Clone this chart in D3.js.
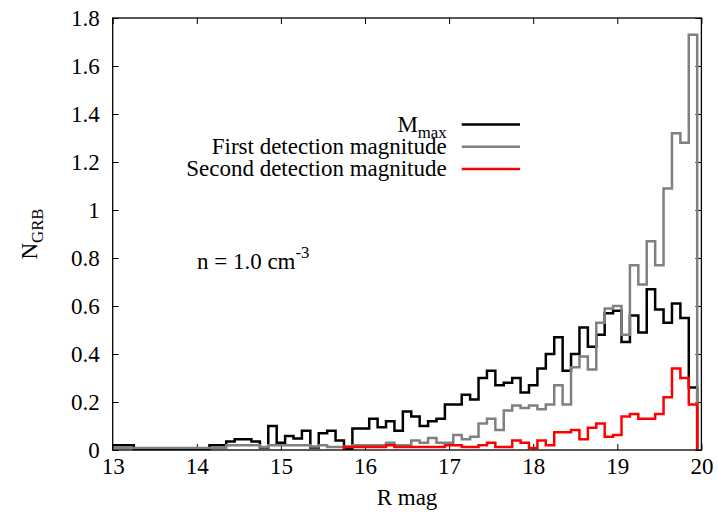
<!DOCTYPE html>
<html lang="en">
<head>
  <meta charset="utf-8">
  <title>N_GRB vs R mag</title>
  <script src="https://d3js.org/d3.v7.min.js"></script>
  <style>
    body { margin: 0; background: #fff; }
    .axis path.domain { display: none; }
    .axis line { stroke: #000; stroke-width: 1; }
  </style>
</head>
<body>
  <div id="chart"></div>

  <script>
    "use strict"

    var fonte = '"Liberation Serif", "Times New Roman", Tinos, "Noto Serif", "DejaVu Serif", serif';

    // bin centres (0.1 mag bins), 13.0 ... 19.9
    var binCenters = d3.range(70).map(i => +(13 + i * 0.1).toFixed(1));

    // M_max
    var mMax = [
      0.02, 0.02, 0.02, 0.004, 0.004, 0.004, 0.004, 0.004, 0.004, 0.004,
      0.004, 0.004, 0.02, 0.02, 0.035, 0.045, 0.045, 0.035, 0.01, 0.10,
      0.03, 0.058, 0.048, 0.08, 0.01, 0.07, 0.08, 0.04, 0.005, 0.09,
      0.09, 0.13, 0.095, 0.12, 0.08, 0.16, 0.14, 0.10, 0.12, 0.13,
      0.19, 0.19, 0.23, 0.21, 0.30, 0.33, 0.27, 0.28, 0.30, 0.24,
      0.27, 0.34, 0.40, 0.47, 0.33, 0.40, 0.51, 0.43, 0.48, 0.57,
      0.58, 0.45, 0.56, 0.49, 0.67, 0.585, 0.53, 0.61, 0.55, 0.26
    ];

    // first detection magnitude
    var firstDet = [
      0.008, 0.008, 0.008, 0.008, 0.008, 0.008, 0.008, 0.008, 0.008, 0.008,
      0.008, 0.008, 0.008, 0.008, 0.02, 0.02, 0.02, 0.02, 0.012, 0.02,
      0.02, 0.02, 0.02, 0.02, 0.015, 0.02, 0.012, 0.012, 0.015, 0.02,
      0.02, 0.02, 0.02, 0.03, 0.02, 0.02, 0.04, 0.03, 0.05, 0.03,
      0.03, 0.063, 0.045, 0.055, 0.11, 0.13, 0.083, 0.165, 0.185, 0.175,
      0.185, 0.17, 0.19, 0.27, 0.19, 0.345, 0.39, 0.335, 0.53, 0.59,
      0.60, 0.48, 0.77, 0.69, 0.87, 0.77, 1.09, 1.32, 1.28, 1.73
    ];

    // second detection magnitude (no entries below 15.8)
    var secondDet = [
      null, null, null, null, null, null, null, null, null, null,
      null, null, null, null, null, null, null, null, null, null,
      null, null, null, null, null, null, null, null, 0.012, 0.012,
      0.012, 0.012, 0.012, 0.02, 0.012, 0.012, 0.012, 0.012, 0.012, 0.012,
      0.02, 0.02, 0.012, 0.012, 0.02, 0.03, 0.012, 0.012, 0.04, 0.03,
      0.008, 0.04, 0.02, 0.074, 0.074, 0.083, 0.045, 0.093, 0.11, 0.055,
      0.063, 0.14, 0.15, 0.13, 0.13, 0.15, 0.22, 0.34, 0.30, 0.19
    ];

    var xTicks = [13, 14, 15, 16, 17, 18, 19, 20];
    var yTicks = [0, 0.2, 0.4, 0.6, 0.8, 1, 1.2, 1.4, 1.6, 1.8];

    var series = [
      { nome: "M", sub: "max", valores: mMax, cor: "#000000" },
      { nome: "First detection magnitude", sub: null, valores: firstDet, cor: "#808080" },
      { nome: "Second detection magnitude", sub: null, valores: secondDet, cor: "#ff0000" }
    ];

    var larguraSVG = 718, alturaSVG = 520;
    var margin = { top: 18, right: 16.6, bottom: 70, left: 112.7 },
        larguraVis = larguraSVG - margin.left - margin.right,
        alturaVis = alturaSVG - margin.top - margin.bottom;

    var svg = d3.select('#chart')
      .append('svg')
        .attr('width', larguraSVG)
        .attr('height', alturaSVG)
        .style('font-family', fonte);

    var grafico = svg.append('g')
        .attr('transform', 'translate(' + margin.left + ',' + margin.top + ')');

    var xScale = d3.scaleLinear().domain([13, 20]).range([0, larguraVis]);
    var yScale = d3.scaleLinear().domain([0, 1.8]).range([alturaVis, 0]);

    // eixos com ticks para dentro
    grafico.append('g')
        .attr('class', 'axis')
        .attr('transform', 'translate(0,' + alturaVis + ')')
        .call(d3.axisBottom(xScale).tickValues(xTicks).tickSize(-6).tickPadding(8).tickFormat(d3.format('d')));

    grafico.append('g')
        .attr('class', 'axis')
        .call(d3.axisTop(xScale).tickValues(xTicks).tickSize(-6).tickFormat(''));

    grafico.append('g')
        .attr('class', 'axis')
        .call(d3.axisLeft(yScale).tickValues(yTicks).tickSize(-6).tickPadding(13).tickFormat(d => d3.format('')(+d.toFixed(1))));

    grafico.append('g')
        .attr('class', 'axis')
        .attr('transform', 'translate(' + larguraVis + ',0)')
        .call(d3.axisRight(yScale).tickValues(yTicks).tickSize(-6).tickFormat(''));

    grafico.selectAll('.axis').attr('font-family', null).attr('font-size', null);

    // histogramas em degraus (bordas em .x5)
    var linha = d3.line().x(d => xScale(d[0])).y(d => yScale(d[1]));

    function pontosDegrau(valores) {
      var pts = [];
      valores.forEach((v, i) => {
        if (v === null) return;
        var c = binCenters[i];
        var l = Math.max(13, c - 0.05), r = c + 0.05;
        if (pts.length === 0 && l > 13) pts.push([l, 0]);
        pts.push([l, v], [r, v]);
      });
      pts.push([pts[pts.length - 1][0], 0]);
      return pts;
    }

    series.forEach(s => {
      grafico.append('path')
        .attr('d', linha(pontosDegrau(s.valores)))
        .attr('fill', 'none')
        .attr('stroke', s.cor)
        .attr('stroke-width', 2.5)
        .attr('stroke-linejoin', 'miter');
    });

    // moldura
    grafico.append('rect')
        .attr('width', larguraVis)
        .attr('height', alturaVis)
        .attr('fill', 'none')
        .attr('stroke', '#000')
        .attr('stroke-width', 1.3);

    // legenda
    var legenda = svg.append('g');
    series.forEach((s, i) => {
      var y = 124.5 + i * 22.3;
      var t = legenda.append('text')
          .attr('class', i === 1 ? 'ref' : null)
          .attr('x', 446.7)
          .attr('y', y + 7)
          .attr('text-anchor', 'end')
          .text(s.nome);
      if (s.sub) {
        t.append('tspan').attr('class', 'sub').attr('dy', 6).text(s.sub);
      }
      legenda.append('line')
          .attr('x1', 461.7).attr('x2', 520)
          .attr('y1', y).attr('y2', y)
          .attr('stroke', s.cor)
          .attr('stroke-width', 2.5);
    });

    // anotacao
    var anot = svg.append('text')
        .attr('x', 197)
        .attr('y', 268.5)
        .text('n = 1.0 cm');
    anot.append('tspan').attr('class', 'sub').attr('dy', -11).text('-3');

    // rotulos dos eixos
    svg.append('text')
        .attr('x', margin.left + larguraVis / 2)
        .attr('y', 505)
        .attr('text-anchor', 'middle')
        .text('R mag');

    var rotY = svg.append('text')
        .attr('transform', 'translate(37,' + (margin.top + alturaVis / 2) + ') rotate(-90)')
        .attr('text-anchor', 'middle')
        .text('N');
    rotY.append('tspan').attr('class', 'sub').attr('dy', 6).text('GRB');

    // tamanho da fonte ajustado para a largura da legenda na figura (235 px)
    var base = 23;
    svg.selectAll('text').style('font-family', fonte).style('fill', '#000').style('font-size', base + 'px');
    svg.selectAll('tspan.sub').style('font-size', (base * 0.73) + 'px');
    var largura = svg.select('text.ref').node().getComputedTextLength();
    var tam = Math.min(24, base * 235 / largura);
    svg.selectAll('text').style('font-size', tam + 'px');
    svg.selectAll('tspan.sub').style('font-size', (tam * 0.73) + 'px');
  </script>
</body>
</html>
